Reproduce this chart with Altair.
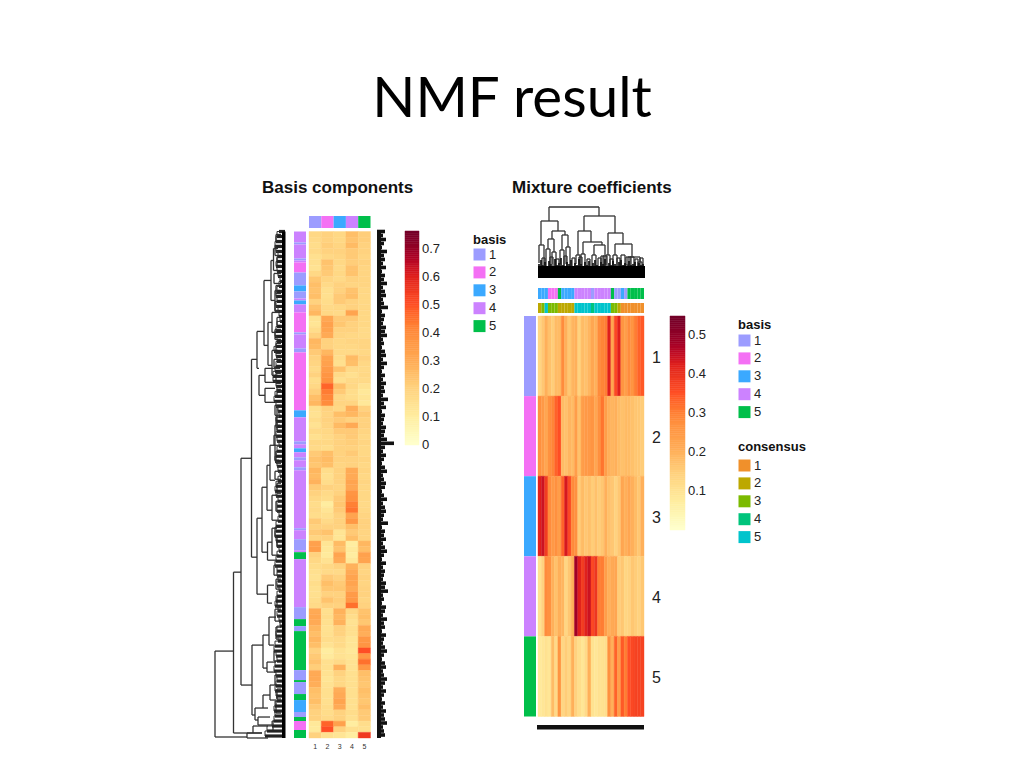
import altair as alt
import numpy as np
import pandas as pd

FONT = "Liberation Sans"
def px(v):
    return v - 8

# ---------------- reference values ----------------
basis_c1 = [.18,.17,.16,.17,.15,.15,.14,.18,.23,.25,.24,.25,.2,.24,.27,.14,.13,.16,.2,.27,.26,.22,.2,.19,.17,.2,.16,.18,.21,.25,.27,.15,.14,.16,.14,.17,.15,.18,.17,.22,.24,.23,.27,.26,.28,.22,.2,.18,.16,.17,.16,.22,.2,.22,.19,.33,.34,.2,.18,.16,.15,.14,.16,.15,.15,.16,.17,.3,.31,.3,.27,.25,.27,.25,.2,.22,.24,.21,.3,.3,.29,.25,.24,.25,.22,.2,.2,.12,.11,.2]
basis_c2 = [.2,.2,.21,.2,.18,.24,.23,.22,.19,.17,.15,.15,.16,.17,.18,.31,.33,.32,.3,.2,.2,.27,.32,.33,.35,.37,.38,.47,.43,.41,.4,.2,.19,.2,.19,.18,.17,.18,.16,.25,.26,.25,.16,.15,.16,.2,.17,.16,.1,.13,.15,.17,.2,.24,.2,.13,.12,.11,.14,.18,.17,.22,.25,.23,.2,.24,.2,.15,.16,.15,.14,.15,.16,.14,.1,.11,.15,.15,.14,.13,.14,.15,.15,.15,.16,.16,.17,.47,.5,.15]
basis_c3 = [.18,.18,.19,.2,.19,.18,.17,.18,.17,.2,.2,.22,.22,.18,.17,.22,.23,.2,.19,.18,.18,.17,.16,.15,.24,.17,.15,.25,.22,.18,.19,.18,.25,.22,.26,.22,.2,.2,.2,.2,.2,.19,.2,.2,.2,.19,.2,.22,.23,.22,.2,.2,.2,.13,.13,.26,.24,.32,.3,.2,.17,.2,.22,.23,.2,.21,.2,.28,.27,.28,.2,.2,.17,.17,.14,.14,.17,.28,.2,.18,.18,.29,.3,.32,.3,.2,.2,.33,.2,.13]
basis_c4 = [.25,.24,.26,.22,.22,.21,.24,.24,.2,.19,.24,.25,.2,.2,.32,.22,.2,.2,.18,.19,.18,.17,.26,.25,.17,.15,.17,.18,.16,.16,.19,.29,.27,.2,.3,.22,.22,.21,.2,.22,.2,.2,.3,.3,.32,.31,.37,.38,.42,.44,.32,.36,.25,.22,.25,.1,.11,.1,.12,.28,.3,.32,.32,.3,.35,.36,.45,.18,.16,.14,.15,.15,.13,.13,.12,.13,.14,.14,.15,.15,.15,.15,.15,.15,.15,.16,.15,.1,.15,.1]
basis_c5 = [.21,.21,.2,.2,.19,.2,.19,.19,.19,.19,.18,.18,.18,.18,.18,.18,.18,.17,.17,.19,.19,.18,.2,.18,.17,.18,.17,.14,.12,.13,.12,.2,.22,.2,.2,.19,.18,.19,.18,.18,.19,.18,.19,.18,.19,.18,.18,.18,.17,.18,.19,.2,.2,.19,.19,.27,.25,.33,.32,.2,.19,.2,.19,.2,.2,.19,.2,.24,.25,.23,.3,.29,.36,.37,.5,.36,.45,.36,.25,.24,.23,.25,.24,.23,.25,.22,.22,.16,.15,.55]
basis_columns = [basis_c1, basis_c2, basis_c3, basis_c4, basis_c5]
component_labels = ["1", "2", "3", "4", "5"]

# row annotation of the basis map: run of a class, last leaf of the run
row_class = [4,1,4,1,4,2,1,3,1,4,3,4,2,1,4,1,2,3,4,1,4,3,4,1,4,1,4,1,4,1,4,5,4,1,5,1,5,1,5,1,5,3,1,5,2,5]
row_class_end = [11,13,27,29,31,41,54,60,67,69,73,81,101,103,117,121,179,186,210,213,217,221,226,229,236,239,297,299,308,319,321,328,376,388,395,400,439,449,451,463,469,481,486,490,499,507]

mix_row1 = [.13,.16,.2,.17,.15,.18,.18,.28,.2,.16,.19,.2,.14,.18,.17,.19,.22,.2,.28,.29,.3,.42,.22,.36,.42,.26,.24,.28,.26,.3,.33,.34]
mix_row2 = [.27,.25,.22,.27,.29,.33,.35,.18,.17,.19,.18,.24,.17,.24,.25,.25,.26,.22,.27,.31,.24,.2,.19,.2,.18,.17,.18,.18,.17,.16,.16,.15]
mix_row3 = [.42,.44,.38,.28,.25,.27,.24,.33,.43,.36,.28,.27,.15,.18,.16,.17,.15,.17,.15,.16,.2,.17,.16,.14,.16,.22,.2,.22,.2,.18,.16,.2]
mix_row4 = [.1,.14,.28,.27,.2,.17,.2,.19,.13,.16,.2,.48,.42,.38,.42,.44,.36,.39,.3,.3,.24,.2,.21,.22,.15,.16,.13,.14,.16,.15,.14,.16]
mix_row5 = [.08,.09,.1,.09,.18,.12,.26,.13,.15,.13,.2,.14,.11,.09,.12,.2,.1,.09,.1,.1,.11,.27,.2,.33,.24,.34,.3,.35,.36,.37,.37,.37]
mix_rows = [mix_row1, mix_row2, mix_row3, mix_row4, mix_row5]
mix_basis = [3,3,3,2,2,2,5,3,3,3,3,4,4,4,4,4,1,4,4,4,4,4,5,1,1,3,1,5,5,5,5,5]
mix_consensus = [2,3,5,3,3,3,2,2,2,2,2,5,5,5,5,5,4,5,5,5,5,5,3,3,2,1,1,1,1,1,1,1]

# left dendrogram: merge height, span of leaves, heights of the two children
left_h = [70,51.5,44,33.5,28,21,14,11.5,10,17,13,13,26,20,20,28,23,18,15,10,13,17.5,13,17.5,33,22,16,18,30,22,15,27,38,32,8]
left_y0 = [420,341,227,128,100,49,29,17,59,91,81,119,144,137,157,287,256,234,214,194,264,311,297,354,414,404,386,431,477,464,454,486,502,495,174]
left_y1 = [506,502,454,326,137,114,69,39,79,134,101,144,164,151,171,363,321,279,249,229,289,329,324,372,484,437,414,441,489,477,469,494,507,502,199]
left_e0 = [51.5,44,33.5,28,21,14,11.5,7,5,13,7,7,20,5,10,23,18,15,10,5,7,13,8,11,22,16,9,9,22,15,8,15,23,17,3]
left_e1 = [38,32,33,28,26,17,10,7,7,13,7,7,20,5,10,17.5,17.5,13,10,6,7,8,6,13,30,18,11,9,27,17,9,13,17,23,3]
left_small_h = [9,10,8,11,9,10,8,10,9,11,9,8,10,9,11,9,10,8,9,10,8,11,9,8,10,9,11,10,8,9,12]
left_small_y0 = [3,14,26,42,54,70,86,98,112,128,142,158,174,186,204,220,240,252,270,296,306,334,348,366,378,396,420,444,458,470,490]
left_small_y1 = [11,24,34,52,62,80,94,108,122,136,152,166,184,196,214,232,248,262,280,306,316,344,358,376,390,408,430,454,468,482,500]
left_small_end = [4,4,4,4,4,4,4,4,4,4,4,4,4,4,4,4,4,4,4,4,4,4,4,4,4,4,4,4,4,4,4]
left_fringe = [6,8,9,10,9,7,8,9,8,7,5,6,8,9,8,9,7,6,5,8,9,10,8,9,11,9,8,9,10,12,12,9,8,10,11,9,7,6,9,8,8,9,8,6,8,9,10,8,7,5,7,9,10,9,7,8,8,6,7,9,9,10,9,8,6,8,9,10,8,8,7,8,6,8,9,10,7,8,6,5,8,9,7,10,11,9,8,10,11,9,8,9,10,9,8,10,11,10,11,13,18,20]

gene_label_len = [8,6,9,7,5,10,7,8,6,9,5,8,7,10,6,8,9,6,7,11,5,8,7,6,9,8,10,6,7,5,8,9,6,10,7,5,8,6,9,7,8,6,11,7,9,5,8,7,6,9,8,7,10,17,8,6,9,7,5,8,10,6,7,9,8,5,7,10,6,8,9,7,6,11,5,8,7,9,6,8,10,7,5,9,6,8,7,6,9,8,11,6,7,5,9,8,6,10,7,8,5,9,7,6,8,10,7,5,8,9,6,7,10,8,6,9,7,5,8,6,9,7,8,10,6,7,8]

# top dendrogram: merge height, span of samples, heights of the two children
top_h = [71,57,47,39,43,62,47,45,36,33,34,21,33,29,26,28,31,23,24,23,22,23,23,23,21,16,13,20,21,19,22,20,21,19,20,22,19,20,21,19,20]
top_x0 = [11,3,14,10,24,46,40,70,45,56,77,88,1,8,14,22,28,38,43,54,65,68,83,75,92,100,86,4,12,18,26,34,41,49,60,63,72,79,90,97,102]
top_x1 = [61,20,27,16,30,77,53,85,64,67,94,102,6,12,18,26,32,42,47,58,69,72,87,79,96,104,90,7,15,21,29,37,44,52,63,66,75,82,93,100,105]
top_e0 = [57,33,39,29,28,47,23,23,24,23,23,13,15,12,14,14,14,14,13,12,12,13,12,12,12,12,12,10,10,10,10,10,10,10,10,10,10,10,10,10,10]
top_e1 = [62,47,43,26,31,45,36,34,33,22,21,16,13,12,12,12,12,12,12,12,12,12,12,12,12,12,12,10,10,10,10,10,10,10,10,10,10,10,10,10,10]
top_fringe = [14,18,13,16,12,17,14,12,19,13,15,20,13,12,16,14,18,12,15,13,19,14,12,16,13,17,12,15,18,13,12,16,14,19,12,15,13,17,14,12,16,18,13,15,12,17,13,14,16,12,15,13,14]

class_colors = ["#9C9CFF", "#F470F4", "#3BA9FF", "#CC82FF", "#00BF4A"]
consensus_colors = ["#F0902B", "#BDA800", "#7BBA00", "#00C47C", "#00C4CC"]
heat_ramp = ["#FFFFCC", "#FFEDA0", "#FFD27F", "#FFAA55", "#FF8C3C", "#FF4E25", "#E0201C", "#950026", "#700028"]
basis_stops = [0, .1, .2, .3, .4, .5, .6, .7, .765]
mix_stops = [0, .07, .14, .21, .28, .35, .42, .49, .548]
basis_ticks = [0, .1, .2, .3, .4, .5, .6, .7]
basis_tick_labels = ["0", "0.1", "0.2", "0.3", "0.4", "0.5", "0.6", "0.7"]
mix_ticks = [.1, .2, .3, .4, .5]
mix_tick_labels = ["0.1", "0.2", "0.3", "0.4", "0.5"]

# ---------------- helpers ----------------
def class_color(title, colors, legend_xy=None, title_pad=3):
    legend = None
    if legend_xy is not None:
        legend = alt.Legend(title=title, orient="none", legendX=legend_xy[0], legendY=legend_xy[1],
                            symbolType="square", symbolSize=144, symbolStrokeWidth=0, rowPadding=3.9,
                            labelFont=FONT, labelFontSize=13, labelColor="#222222", labelOffset=3,
                            titleFont=FONT, titleFontSize=13, titleFontWeight="bold", titleColor="#111111",
                            titlePadding=title_pad, padding=0)
    return alt.Color("c:N", scale=alt.Scale(domain=component_labels, range=colors), legend=legend)

def heat_color(stops):
    return alt.Color("v:Q", scale=alt.Scale(domain=stops, range=heat_ramp), legend=None)

def heat_stroke(stops):
    return alt.Stroke("v:Q", scale=alt.Scale(domain=stops, range=heat_ramp), legend=None)

def colorbar(stops, ticks, tick_labels, x0, x1, y_top, y_bottom):
    edges = np.linspace(0, stops[-1], 101)
    df = pd.DataFrame({"v": edges[:-1], "v2": edges[1:]})
    ys = alt.Scale(domain=[0, stops[-1]], range=[px(y_bottom), px(y_top)], nice=False, zero=False)
    bar = alt.Chart(df).mark_rect(strokeWidth=0.5).encode(
        x=alt.value(px(x0)), x2=alt.value(px(x1)),
        y=alt.Y("v:Q", axis=None, scale=ys), y2="v2:Q",
        color=heat_color(stops), stroke=heat_stroke(stops))
    labels = alt.Chart(pd.DataFrame({"v": ticks, "t": tick_labels})).mark_text(
        font=FONT, fontSize=13, color="#222222", align="left", baseline="middle").encode(
        x=alt.value(px(x1 + 3)), y=alt.Y("v:Q", axis=None, scale=ys), text="t:N")
    return [bar, labels]

def tree_frames(h, a0, a1, e0, e1):
    v = pd.DataFrame({"h": h, "h2": h, "a": a0, "a2": a1})
    t = pd.DataFrame({"h": h, "h2": e0, "a": a0, "a2": a0})
    b = pd.DataFrame({"h": h, "h2": e1, "a": a1, "a2": a1})
    return pd.concat([v, t, b], ignore_index=True)

def text(s, x, y, size, weight="normal", color="#111111", font=FONT, align="left"):
    return alt.Chart(pd.DataFrame({"t": [s]})).mark_text(
        align=align, baseline="alphabetic", font=font, fontSize=size, fontWeight=weight, color=color
    ).encode(x=alt.value(px(x)), y=alt.value(px(y)), text="t:N")

layers = []

# titles
layers.append(text("NMF result", 512, 117, 56.5, font="Lato", align="center", color="#000000"))
layers.append(text("Basis components", 262, 193, 17, "bold"))
layers.append(text("Mixture coefficients", 512, 193, 17, "bold"))

# ---------------- basis map ----------------
n_rows = len(basis_c1)
row_ids = list(range(n_rows))
basis_df = pd.DataFrame([
    {"col": component_labels[j], "row": i, "v": basis_columns[j][i]}
    for j in range(5) for i in row_ids
])
bx = alt.X("col:N", axis=None, scale=alt.Scale(domain=component_labels, range=[px(309), px(370.5)]))
by = alt.Y("row:O", axis=None, scale=alt.Scale(domain=row_ids, range=[px(231.5), px(738)]))
layers.append(alt.Chart(basis_df).mark_rect(strokeWidth=0.4).encode(
    x=bx, y=by, color=heat_color(basis_stops), stroke=heat_stroke(basis_stops)))
layers += colorbar(basis_stops, basis_ticks, basis_tick_labels, 405, 419, 231, 445)

# top annotation + legend
layers.append(alt.Chart(pd.DataFrame({"col": component_labels, "c": component_labels})).mark_rect().encode(
    x=bx, y=alt.value(px(216)), y2=alt.value(px(228)),
    color=class_color("basis", class_colors, (px(473), px(234)), title_pad=1)))

# row annotation
starts = [0] + row_class_end[:-1]
leaf_scale = alt.Scale(domain=[0, 507], range=[px(231.5), px(738)], nice=False, zero=False)
strip_df = pd.DataFrame({"s": starts, "e": row_class_end, "c": [str(c) for c in row_class]})
layers.append(alt.Chart(strip_df).mark_rect().encode(
    x=alt.value(px(294)), x2=alt.value(px(306)),
    y=alt.Y("s:Q", axis=None, scale=leaf_scale), y2="e:Q",
    color=class_color(None, class_colors)))

# column labels
layers.append(alt.Chart(pd.DataFrame({"col": component_labels})).mark_text(
    font=FONT, fontSize=7, color="#333333", baseline="middle").encode(
    x=bx, y=alt.value(px(747)), text="col:N"))

# gene-label fringe
gene_span = pd.DataFrame({"s": [0], "e": [507]})
fr_df = pd.DataFrame({"i": [k * 4 for k in range(len(gene_label_len))], "l": gene_label_len, "z": 0})
layers.append(alt.Chart(fr_df).mark_rule(strokeWidth=3.6, color="#111111").encode(
    y=alt.Y("i:Q", axis=None, scale=leaf_scale),
    x=alt.X("z:Q", axis=None, scale=alt.Scale(domain=[0, 20], range=[px(377), px(397)], nice=False, zero=False)),
    x2="l:Q"))
layers.append(alt.Chart(gene_span).mark_rect(color="#111111").encode(
    x=alt.value(px(377)), x2=alt.value(px(381)),
    y=alt.Y("s:Q", axis=None, scale=leaf_scale), y2="e:Q"))

# left dendrogram
lh_scale = alt.Scale(domain=[70, 0], range=[px(215), px(285)], nice=False, zero=False)
left_df = pd.concat([tree_frames(left_h, left_y0, left_y1, left_e0, left_e1),
                     tree_frames(left_small_h, left_small_y0, left_small_y1, left_small_end, left_small_end)],
                    ignore_index=True)
layers.append(alt.Chart(left_df).mark_rule(strokeWidth=1.3, color="#333333").encode(
    x=alt.X("h:Q", axis=None, scale=lh_scale), x2="h2:Q",
    y=alt.Y("a:Q", axis=None, scale=leaf_scale), y2="a2:Q"))

lf_df = pd.DataFrame({"i": [k * 5 for k in range(len(left_fringe))], "h": left_fringe, "z": 0})
layers.append(alt.Chart(lf_df).mark_rule(strokeWidth=3.2, color="#222222").encode(
    x=alt.X("h:Q", axis=None, scale=lh_scale), x2="z:Q",
    y=alt.Y("i:Q", axis=None, scale=leaf_scale)))
layers.append(alt.Chart(lf_df).mark_line(strokeWidth=1, color="#333333", interpolate="step-after").encode(
    x=alt.X("h:Q", axis=None, scale=lh_scale),
    y=alt.Y("i:Q", axis=None, scale=leaf_scale), order="i:Q"))
layers.append(alt.Chart(gene_span).mark_rect(color="#000000").encode(
    x=alt.value(px(282)), x2=alt.value(px(285.5)),
    y=alt.Y("s:Q", axis=None, scale=leaf_scale), y2="e:Q"))

# ---------------- mixture map ----------------
n_cols = len(mix_row1)
col_ids = list(range(n_cols))
mix_df = pd.DataFrame([
    {"col": j, "row": component_labels[i], "v": mix_rows[i][j]}
    for i in range(5) for j in col_ids
])
mx = alt.X("col:O", axis=None, scale=alt.Scale(domain=col_ids, range=[px(538), px(644)]))
my = alt.Y("row:N", axis=None, scale=alt.Scale(domain=component_labels, range=[px(316), px(716.5)]))
layers.append(alt.Chart(mix_df).mark_rect(strokeWidth=0.4).encode(
    x=mx, y=my, color=heat_color(mix_stops), stroke=heat_stroke(mix_stops)))
layers += colorbar(mix_stops, mix_ticks, mix_tick_labels, 670, 685, 316, 530)

# row annotation + legend
layers.append(alt.Chart(pd.DataFrame({"row": component_labels, "c": component_labels})).mark_rect().encode(
    x=alt.value(px(524)), x2=alt.value(px(536)), y=my,
    color=class_color("basis", class_colors, (px(738), px(319)), title_pad=2)))

# sample annotation tracks
layers.append(alt.Chart(pd.DataFrame({"col": col_ids, "c": [str(c) for c in mix_basis]})).mark_rect().encode(
    x=mx, y=alt.value(px(288)), y2=alt.value(px(299)),
    color=class_color(None, class_colors)))
layers.append(alt.Chart(pd.DataFrame({"col": col_ids, "c": [str(c) for c in mix_consensus]})).mark_rect().encode(
    x=mx, y=alt.value(px(303)), y2=alt.value(px(313)),
    color=class_color("consensus", consensus_colors, (px(738), px(441)), title_pad=5)))

# row labels
layers.append(alt.Chart(pd.DataFrame({"row": component_labels})).mark_text(
    font=FONT, fontSize=16, color="#222222", align="left", baseline="middle", dy=2).encode(
    x=alt.value(px(652)), y=my, text="row:N"))

# top dendrogram
tp_scale = alt.Scale(domain=[0, 107], range=[px(538), px(645)], nice=False, zero=False)
th_scale = alt.Scale(domain=[0, 71], range=[px(278), px(207)], nice=False, zero=False)
top_df = tree_frames(top_h, top_x0, top_x1, top_e0, top_e1)
layers.append(alt.Chart(top_df).mark_rule(strokeWidth=1.3, color="#333333").encode(
    x=alt.X("a:Q", axis=None, scale=tp_scale), x2="a2:Q",
    y=alt.Y("h:Q", axis=None, scale=th_scale), y2="h2:Q"))
tf_df = pd.DataFrame({"i": [k * 2 + 1 for k in range(len(top_fringe))], "h": top_fringe, "z": 0})
layers.append(alt.Chart(tf_df).mark_rule(strokeWidth=1.7, color="#111111").encode(
    x=alt.X("i:Q", axis=None, scale=tp_scale),
    y=alt.Y("h:Q", axis=None, scale=th_scale), y2="z:Q"))
span_df = pd.DataFrame({"s": [0], "e": [107]})
layers.append(alt.Chart(span_df).mark_rect(color="#000000").encode(
    x=alt.X("s:Q", axis=None, scale=tp_scale), x2="e:Q",
    y=alt.value(px(266)), y2=alt.value(px(278))))

# sample-label fringe
layers.append(alt.Chart(span_df).mark_rect(color="#111111").encode(
    x=alt.X("s:Q", axis=None, scale=alt.Scale(domain=[0, 107], range=[px(537), px(644)], nice=False, zero=False)), x2="e:Q",
    y=alt.value(px(725)), y2=alt.value(px(729.5))))

chart = alt.layer(*layers).resolve_scale(
    x="independent", y="independent", color="independent", stroke="independent"
).properties(
    width=1008, height=752, padding=0, background="white",
    autosize=alt.AutoSizeParams(type="none")
).configure_view(stroke=None)

chart.save("out.html", embed_options={"renderer": "svg", "actions": False})
